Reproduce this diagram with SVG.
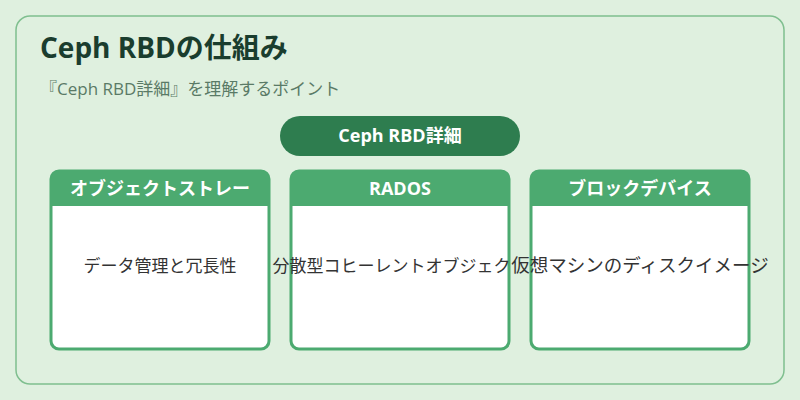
<svg xmlns="http://www.w3.org/2000/svg" width="800" height="400" viewBox="0 0 800 400">
<style>
text{font-family:"Open Sans","Noto Sans CJK JP",sans-serif}
.hd{fill:#4caa70}
.box{fill:#fff;stroke:#4caa70;stroke-width:3}
.ht{fill:#fff;font-size:18px;font-weight:bold;text-anchor:middle}
.bt{fill:#333;font-size:17px;text-anchor:middle}
</style>
<rect width="800" height="400" fill="#dff0df"/>
<rect x="16" y="16" width="768" height="368" rx="14" fill="#dff0df" stroke="#7fbf8f" stroke-width="1.5"/>
<text x="40" y="58" font-size="28" font-weight="bold" fill="#1a3d2e">Ceph RBDの仕組み</text>
<text x="40" y="95" font-size="17" fill="#5a7a66" font-family="Roboto,'Noto Sans CJK JP',sans-serif">『Ceph RBD詳細』を理解するポイント</text>
<g id="center"><rect x="280" y="116" width="240" height="40" rx="20" fill="#2e7d4f"/><text x="400" y="142" class="ht">Ceph RBD詳細</text></g>
<g id="n1"><rect class="box" x="51" y="171" width="218" height="178" rx="8"/><path class="hd" d="M51 206V179a8 8 0 0 1 8-8h202a8 8 0 0 1 8 8v27z"/><text class="ht" x="160" y="195">オブジェクトストレー</text><text class="bt" x="160" y="272">データ管理と冗長性</text></g>
<g id="n2"><rect class="box" x="291" y="171" width="218" height="178" rx="8"/><path class="hd" d="M291 206V179a8 8 0 0 1 8-8h202a8 8 0 0 1 8 8v27z"/><text class="ht" x="400" y="195">RADOS</text><text class="bt" x="400" y="272">分散型コヒーレントオブジェクト</text></g>
<rect x="511" y="240" width="19" height="50" fill="#dff0df"/>
<g id="n3"><rect class="box" x="531" y="171" width="218" height="178" rx="8"/><path class="hd" d="M531 206V179a8 8 0 0 1 8-8h202a8 8 0 0 1 8 8v27z"/><text class="ht" x="640" y="195">ブロックデバイス</text><text class="bt" x="640" y="272" style="font-size:18.5px">仮想マシンのディスクイメージ</text></g>
<g id="connectors"/>
</svg>
